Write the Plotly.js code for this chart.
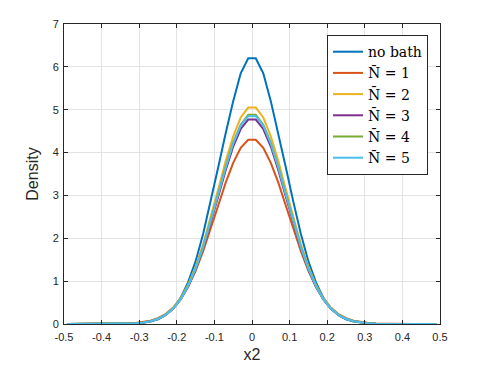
<!DOCTYPE html>
<html>
<head>
<meta charset="utf-8">
<script src="https://cdn.plot.ly/plotly-3.0.1.min.js"></script>
<style>
  body { margin: 0; background: #fff; }
  #chart { width: 488px; height: 366px; }
</style>
</head>
<body>
<div id="chart"></div>
<script>
// sample positions (bin centres)
let xs = [-0.49, -0.47, -0.45, -0.43, -0.41, -0.39, -0.37, -0.35, -0.33, -0.31,
  -0.29, -0.27, -0.25, -0.23, -0.21, -0.19, -0.17, -0.15, -0.13, -0.11,
  -0.09, -0.07, -0.05, -0.03, -0.01, 0.01, 0.03, 0.05, 0.07, 0.09,
  0.11, 0.13, 0.15, 0.17, 0.19, 0.21, 0.23, 0.25, 0.27, 0.29,
  0.31, 0.33, 0.35, 0.37, 0.39, 0.41, 0.43, 0.45, 0.47, 0.49];

let noBath = [0, 0, 0, 0, 0, 0.0003, 0.001, 0.002, 0.005, 0.013,
  0.027, 0.056, 0.11, 0.205, 0.36, 0.61, 0.97, 1.46, 2.1, 2.85,
  3.65, 4.45, 5.2, 5.85, 6.2, 6.2, 5.85, 5.2, 4.45, 3.65,
  2.85, 2.1, 1.46, 0.97, 0.61, 0.36, 0.205, 0.11, 0.056, 0.027,
  0.013, 0.005, 0.002, 0.001, 0.0003, 0, 0, 0, 0, 0];

let nBar1 = [0, 0, 0, 0, 0.0003, 0.0009, 0.0022, 0.0049, 0.0104, 0.021,
  0.041, 0.076, 0.136, 0.231, 0.376, 0.585, 0.87, 1.24, 1.7, 2.21,
  2.76, 3.3, 3.76, 4.11, 4.3, 4.3, 4.11, 3.76, 3.3, 2.76,
  2.21, 1.7, 1.24, 0.87, 0.585, 0.376, 0.231, 0.136, 0.076, 0.041,
  0.021, 0.0104, 0.0049, 0.0022, 0.0009, 0.0003, 0, 0, 0, 0];

let nBar2 = [0, 0, 0, 0, 0.0002, 0.0005, 0.0014, 0.0035, 0.008, 0.017,
  0.035, 0.067, 0.125, 0.22, 0.371, 0.596, 0.915, 1.34, 1.86, 2.48,
  3.14, 3.8, 4.38, 4.82, 5.05, 5.05, 4.82, 4.38, 3.8, 3.14,
  2.48, 1.86, 1.34, 0.915, 0.596, 0.371, 0.22, 0.125, 0.067, 0.035,
  0.017, 0.008, 0.0035, 0.0014, 0.0005, 0.0002, 0, 0, 0, 0];

let nBar3 = [0, 0, 0, 0, 0.0002, 0.0005, 0.0014, 0.0034, 0.0077, 0.016,
  0.033, 0.065, 0.12, 0.211, 0.355, 0.569, 0.87, 1.27, 1.77, 2.35,
  2.97, 3.59, 4.14, 4.55, 4.77, 4.77, 4.55, 4.14, 3.59, 2.97,
  2.35, 1.77, 1.27, 0.87, 0.569, 0.355, 0.211, 0.12, 0.065, 0.033,
  0.016, 0.0077, 0.0034, 0.0014, 0.0005, 0.0002, 0, 0, 0, 0];

let nBar4 = [0, 0, 0, 0, 0.0002, 0.0005, 0.0014, 0.0034, 0.0077, 0.016,
  0.033, 0.065, 0.12, 0.213, 0.359, 0.576, 0.884, 1.29, 1.8, 2.39,
  3.04, 3.67, 4.23, 4.65, 4.88, 4.88, 4.65, 4.23, 3.67, 3.04,
  2.39, 1.8, 1.29, 0.884, 0.576, 0.359, 0.213, 0.12, 0.065, 0.033,
  0.016, 0.0077, 0.0034, 0.0014, 0.0005, 0.0002, 0, 0, 0, 0];

let nBar5 = [0, 0, 0, 0, 0.0002, 0.0005, 0.0014, 0.0035, 0.008, 0.017,
  0.034, 0.066, 0.122, 0.214, 0.36, 0.578, 0.885, 1.29, 1.79, 2.38,
  3.02, 3.65, 4.21, 4.63, 4.85, 4.85, 4.63, 4.21, 3.65, 3.02,
  2.38, 1.79, 1.29, 0.885, 0.578, 0.36, 0.214, 0.122, 0.066, 0.034,
  0.017, 0.008, 0.0035, 0.0014, 0.0005, 0.0002, 0, 0, 0, 0];

let seriesNames = ["no bath", "N\u0304 = 1", "N\u0304 = 2", "N\u0304 = 3", "N\u0304 = 4", "N\u0304 = 5"];
let seriesColors = ["#0072BD", "#D95319", "#EDB120", "#7E2F8E", "#77AC30", "#4DBEEE"];
let seriesData = [noBath, nBar1, nBar2, nBar3, nBar4, nBar5];

let xTickVals = [-0.5, -0.4, -0.3, -0.2, -0.1, 0, 0.1, 0.2, 0.3, 0.4, 0.5];
let xTickText = ["-0.5", "-0.4", "-0.3", "-0.2", "-0.1", "0", "0.1", "0.2", "0.3", "0.4", "0.5"];
let yTickVals = [0, 1, 2, 3, 4, 5, 6, 7];

let traces = [];
for (let i = 0; i < seriesData.length; i++) {
  traces.push({
    type: "scatter",
    mode: "lines",
    x: xs,
    y: seriesData[i],
    name: seriesNames[i],
    line: { color: seriesColors[i], width: 2 },
    hoverinfo: "x+y",
  });
}

let axisColor = "#262626";

let layout = {
  width: 488,
  height: 366,
  margin: { l: 64, r: 48, t: 24, b: 42 },
  paper_bgcolor: "#fff",
  plot_bgcolor: "#fff",
  font: { family: "Liberation Sans, Arial, sans-serif", size: 11, color: axisColor },
  showlegend: true,
  legend: {
    x: 0.6995,
    y: 0.963,
    xanchor: "left",
    yanchor: "top",
    bgcolor: "#fff",
    bordercolor: axisColor,
    borderwidth: 1,
    font: { family: "DejaVu Serif, serif", size: 14, color: "#000" },
    tracegroupgap: 0,
  },
  xaxis: {
    range: [-0.5, 0.5],
    tickvals: xTickVals,
    ticktext: xTickText,
    ticks: "inside",
    ticklen: 4,
    tickcolor: axisColor,
    ticklabelstandoff: 3,
    showline: true,
    mirror: "ticks",
    linecolor: axisColor,
    linewidth: 1,
    showgrid: true,
    gridcolor: "#e3e3e3",
    zeroline: false,
    automargin: false,
    title: { text: "x2", font: { size: 16, color: axisColor }, standoff: 6 },
  },
  yaxis: {
    range: [0, 7],
    tickvals: yTickVals,
    ticks: "inside",
    ticklen: 4,
    tickcolor: axisColor,
    ticklabelstandoff: 2,
    showline: true,
    mirror: "ticks",
    linecolor: axisColor,
    linewidth: 1,
    showgrid: true,
    gridcolor: "#e3e3e3",
    zeroline: false,
    automargin: false,
    title: { text: "Density", font: { size: 16, color: axisColor }, standoff: 10 },
  },
};

Plotly.newPlot("chart", traces, layout, { displayModeBar: false, staticPlot: true });
</script>
</body>
</html>
